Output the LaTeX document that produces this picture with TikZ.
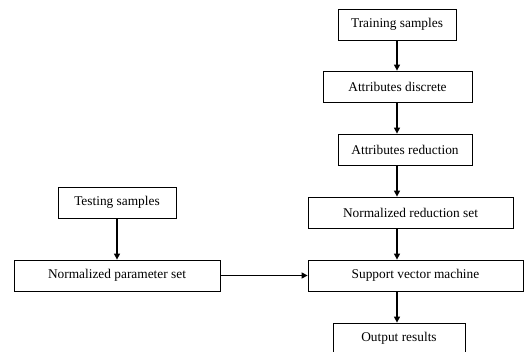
\documentclass[tikz,border=0pt]{standalone}
\usepackage{fontspec}
\setmainfont{Liberation Serif}
\usepackage{tikz}
\usetikzlibrary{arrows.meta}

\begin{document}
\begin{tikzpicture}[x=0.03cm, y=-0.03cm,
    stepbox/.style={draw, line width=0.7pt, rectangle, minimum height=0.93cm, inner sep=0pt, font=\fontsize{11.4}{13}\selectfont},
    flow/.style={-{Triangle[length=5pt, width=5pt]}, line width=1.1pt}]
    \useasboundingbox (0,0) rectangle (524,351);

    % Training branch
    \node[stepbox, minimum width=3.54cm] (train) at (397,24.5) {Training samples};
    \node[stepbox, minimum width=4.47cm] (disc) at (397.5,86.5) {Attributes discrete};
    \node[stepbox, minimum width=4.02cm] (red) at (405,149.5) {Attributes reduction};
    \node[stepbox, minimum width=6.15cm] (nrs) at (410.5,212.5) {Normalized reduction set};
    \node[stepbox, minimum width=6.45cm] (svm) at (415.5,275.5) {Support vector machine};
    \node[stepbox, minimum width=3.96cm] (out) at (399,338.5) {Output results};

    % Testing branch
    \node[stepbox, minimum width=3.54cm] (test) at (117,202.5) {Testing samples};
    \node[stepbox, minimum width=6.18cm] (nps) at (117,275.5) {Normalized parameter set};

    % Arrows
    \draw[flow] (train.south) -- (disc.north -| train.south);
    \draw[flow] (disc.south -| train.south) -- (red.north -| train.south);
    \draw[flow] (red.south -| train.south) -- (nrs.north -| train.south);
    \draw[flow] (nrs.south -| train.south) -- (svm.north -| train.south);
    \draw[flow] (svm.south -| train.south) -- (out.north -| train.south);
    \draw[flow] (test.south) -- (nps.north);
    \draw[flow] (nps.east) -- (svm.west);
\end{tikzpicture}
\end{document}
